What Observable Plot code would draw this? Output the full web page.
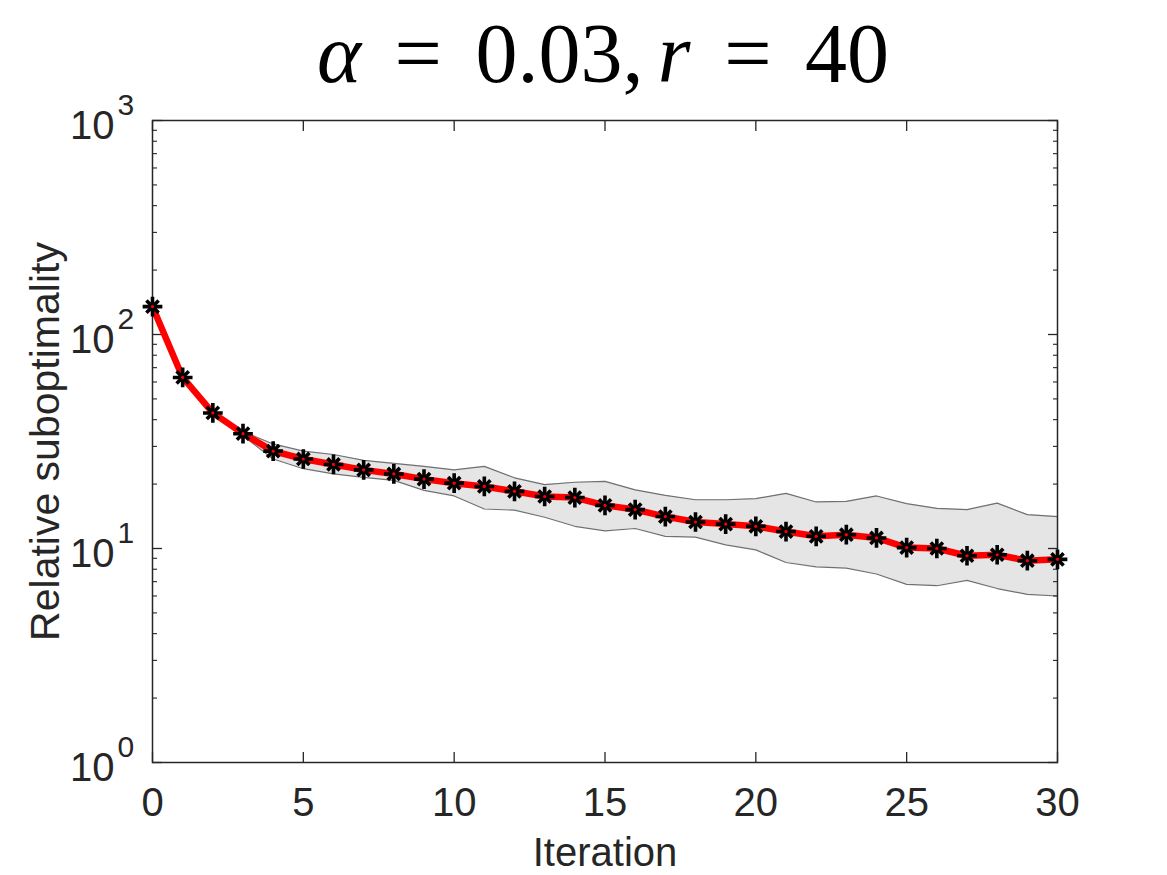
<!DOCTYPE html>
<html><head><meta charset="utf-8">
<script src="https://cdn.jsdelivr.net/npm/d3@7"></script>
<script src="https://cdn.jsdelivr.net/npm/@observablehq/plot@0.6"></script>
<style>
html,body{margin:0;padding:0;background:#fff;}
#title{height:105px;width:1167px;box-sizing:border-box;padding-left:39px;padding-top:13px;text-align:center;font-family:"Liberation Serif","Times New Roman",serif;font-size:84px;line-height:82px;color:#000;white-space:nowrap;}
#title .op{margin:0 0.4em;}
#title i{font-style:italic;}
#chart svg{display:block;}
</style>
</head><body>
<div id="title"><i>α</i><span class="op">=</span>0.03,<i style="margin-left:0.17em">r</i><span class="op">=</span>40</div>
<div id="chart"></div>
<script>
const iterations = [0,1,2,3,4,5,6,7,8,9,10,11,12,13,14,15,16,17,18,19,20,21,22,23,24,25,26,27,28,29,30];
const meanVals = [135,63,43,34.4,28.5,26.2,24.7,23.3,22.3,21.1,20.2,19.5,18.5,17.5,17.3,15.9,15.2,14.1,13.3,13.0,12.7,12.0,11.4,11.6,11.2,10.1,10.0,9.25,9.35,8.77,8.9];
const upperVals = [136,64,43.6,35.2,30.8,28.5,27.5,25.8,25.0,24.2,23.3,24.2,21.4,19.9,20.4,20.6,18.8,17.7,16.9,16.9,17.1,18.1,16.5,16.6,17.6,16.2,15.4,15.2,16.3,14.4,14.1];
const lowerVals = [134,62,42.4,33.6,26.2,23.6,22.3,21.5,20.8,18.7,17.6,15.3,15.1,14.0,12.7,12.1,12.4,11.4,11.3,10.4,9.85,8.6,8.2,8.1,7.6,6.8,6.7,7.1,6.5,6.1,6.0];
const xTicks = [0,5,10,15,20,25,30];
const xTickLabels = ["0","5","10","15","20","25","30"];
const yMajor = [1,10,100,1000];
const yTickBase = ["10","10","10","10"];
const yTickExp = ["0","1","2","3"];
const yMinor = [2,3,4,5,6,7,8,9,20,30,40,50,60,70,80,90,200,300,400,500,600,700,800,900];
const xLabel = "Iteration";
const yLabel = "Relative suboptimality";

const rows = iterations.map((it, i) => ({it, m: meanVals[i], hi: upperVals[i], lo: lowerVals[i]}));
const ink = "#262626";
const font = '"Liberation Sans", Arial, Helvetica, sans-serif';

const chart = Plot.plot({
  width: 1167, height: 770,
  marginTop: 15, marginBottom: 113, marginLeft: 152, marginRight: 110,
  x: {domain: [0, 30]},
  y: {type: "log", domain: [1, 1000]},
  style: {fontFamily: font, color: ink, background: "#fff", overflow: "visible"},
  marks: [
    Plot.areaY(rows, {x: "it", y1: "lo", y2: "hi", fill: "#e5e5e5"}),
    Plot.line(rows, {x: "it", y: "hi", stroke: "#707070", strokeWidth: 1.2}),
    Plot.line(rows, {x: "it", y: "lo", stroke: "#707070", strokeWidth: 1.2}),
    Plot.frame({stroke: ink, strokeWidth: 1.5}),
    Plot.axisX(xTicks, {anchor: "bottom", tickSize: -10, tickFormat: () => "", label: null, stroke: ink, strokeWidth: 1.3}),
    Plot.axisX(xTicks, {anchor: "top", tickSize: -10, tickFormat: () => "", label: null, stroke: ink, strokeWidth: 1.3}),
    Plot.axisY(yMajor, {anchor: "left", tickSize: -10, tickFormat: () => "", label: null, stroke: ink, strokeWidth: 1.3}),
    Plot.axisY(yMajor, {anchor: "right", tickSize: -10, tickFormat: () => "", label: null, stroke: ink, strokeWidth: 1.3}),
    Plot.axisY(yMinor, {anchor: "left", tickSize: -5, tickFormat: () => "", label: null, stroke: ink, strokeWidth: 1.1}),
    Plot.axisY(yMinor, {anchor: "right", tickSize: -5, tickFormat: () => "", label: null, stroke: ink, strokeWidth: 1.1}),
    Plot.text(xTicks, {x: d => d, frameAnchor: "bottom", text: (d, i) => xTickLabels[i], textAnchor: "middle", dy: 53, lineAnchor: "bottom", fontSize: 40, fill: ink}),
    Plot.text(yMajor, {y: d => d, frameAnchor: "left", text: (d, i) => yTickBase[i], textAnchor: "end", dx: -38, dy: 6, lineAnchor: "middle", fontSize: 40, fill: ink}),
    Plot.text(yMajor, {y: d => d, frameAnchor: "left", text: (d, i) => yTickExp[i], textAnchor: "start", dx: -35, dy: -15, lineAnchor: "middle", fontSize: 30, fill: ink}),
    Plot.text([xLabel], {frameAnchor: "bottom", text: d => d, textAnchor: "middle", dy: 103, lineAnchor: "bottom", fontSize: 40, fill: ink}),
    Plot.text([yLabel], {frameAnchor: "left", text: d => d, rotate: -90, textAnchor: "middle", dx: -107, lineAnchor: "middle", fontSize: 41, fill: ink}),
    Plot.line(rows, {x: "it", y: "m", stroke: "#ff0000", strokeWidth: 6.5, strokeLinejoin: "round", strokeLinecap: "round"}),
    Plot.dot(rows, {x: "it", y: "m", symbol: "plus", r: 6.4, stroke: "#000", strokeWidth: 3.6}),
    Plot.dot(rows, {x: "it", y: "m", symbol: "times", r: 5.6, stroke: "#000", strokeWidth: 3.6}),
    Plot.dot(rows, {x: "it", y: "m", r: 1.6, fill: "#ff0000", stroke: null})
  ]
});
document.getElementById("chart").appendChild(chart);
</script>
</body></html>
